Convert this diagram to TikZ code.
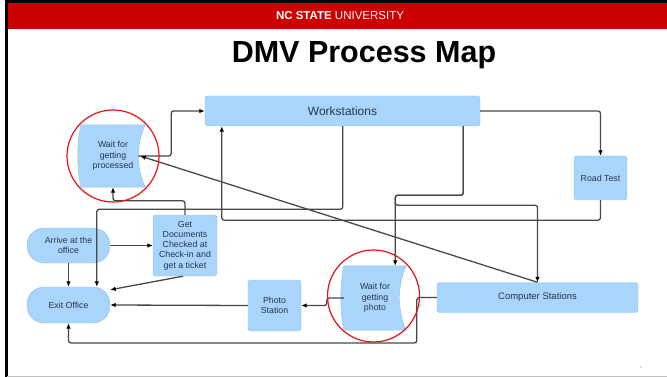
\documentclass[tikz,border=0pt]{standalone}
\usepackage{fontspec}
\setmainfont{Liberation Sans}
\usetikzlibrary{arrows.meta,calc,backgrounds}
\definecolor{boxfill}{RGB}{170,213,250}
\definecolor{boxline}{RGB}{140,195,240}
\definecolor{boxtext}{RGB}{38,52,82}
\definecolor{wire}{RGB}{72,72,72}
\definecolor{ncred}{RGB}{204,0,0}
\definecolor{ringred}{RGB}{232,20,20}
% wait queue: bulged left side, hollow right side
\newcommand{\storedata}[1]{%
  \filldraw[boxfill,draw=boxline,thin]
    (#1.north west) -- (#1.north east)
    .. controls ($(#1.north east)+(-9,20)$) and ($(#1.south east)+(-9,-20)$) .. (#1.south east)
    -- (#1.south west)
    .. controls ($(#1.south west)+(-4,-20)$) and ($(#1.north west)+(-4,20)$) .. cycle;}

\begin{document}
\begin{tikzpicture}[x=1pt,y=-1pt,
box/.style={draw=boxline,fill=boxfill,rounded corners=2.5pt,inner sep=1pt,
  align=center,text=boxtext,font=\fontsize{8.8}{10.3}\selectfont},
pill/.style={box,rounded corners=17pt},
waitbox/.style={inner sep=0pt,align=center,text=boxtext,
  font=\fontsize{8.8}{10.6}\selectfont},
flow/.style={draw=wire,line width=1.3pt,rounded corners=2.5pt,
  -{Latex[length=5.5pt,width=4.6pt,color=black]}},
ring/.style={draw=ringred,line width=1.2pt}]
\useasboundingbox (0,0) rectangle (667,377);

% slide frame
\fill[black] (5,0) rectangle (667,3);
\fill[ncred] (7,3) rectangle (667,29);
\fill[black] (5,0) rectangle (7.5,377);
\draw[black!25,line width=1pt] (7,376) -- (667,376);
\node[text=white] (banner) at (340,15.5)
  {\fontsize{11.5}{12}\selectfont\textbf{NC STATE} UNIVERSITY};
\node (title) at (364,55) {\fontsize{30.5}{31}\selectfont\bfseries DMV Process Map};
\node[text=black!50] (pageno) at (641,367) {\fontsize{3}{3}\selectfont 1};

% stations
\node[box,minimum width=275,minimum height=30,
  font=\fontsize{12}{14}\selectfont] (work) at (342.5,111) {Workstations};
\node[box,minimum width=53,minimum height=44] (road) at (600.5,178) {Road Test};
\node[pill,minimum width=83,minimum height=35] (arrive) at (68.5,245.5) {Arrive at the\\office};
\node[pill,minimum width=83,minimum height=36] (exit) at (68.5,305) {Exit Office};
\node[box,minimum width=64,minimum height=61] (docs) at (185,245.5)
  {Get\\Documents\\Checked at\\Check-in and\\get a ticket};
\node[box,minimum width=53,minimum height=51] (photo) at (274.5,305.5) {Photo\\Station};
\node[box,minimum width=201,minimum height=30,
  font=\fontsize{9.5}{11}\selectfont] (comp) at (537.5,297.5) {Computer Stations};
\node[waitbox,minimum width=64,minimum height=62] (wproc) at (113,156) {Wait for\\getting\\processed};
\node[waitbox,minimum width=62,minimum height=64] (wphoto) at (375,298) {Wait for\\getting\\photo};
\begin{pgfonlayer}{background}
\storedata{wproc}
\storedata{wphoto}
\end{pgfonlayer}

% connectors
\draw[flow] ([xshift=-7pt]wproc.east) -- ++(33,0) |- (work.west);
\draw[flow] (work.east) -| (road.north);
\draw[flow] (road.south) -- ++(0,20) -| ([xshift=17pt]work.south west);
\draw[flow] ([xshift=-17pt]work.south east) -- ++(0,69) -| ([xshift=-11pt]wphoto.north east);
\draw[flow] ([xshift=-17pt]work.south east) -- ++(0,69) -- ++(-68,0) -- ++(0,10) -| (comp.north);
\draw[flow] ([xshift=138pt]work.south west) -- ++(0,83) -| ([xshift=70pt]exit.north west);
\draw[flow] (comp.north) -- ([xshift=-5pt]wproc.east);
\draw[flow] (docs.north) -- ++(0,-14) -| (wproc.south);
\draw[flow] (arrive.east) -- (docs.west);
\draw[flow] (arrive.south) -- (exit.north);
\draw[flow] ([xshift=-2pt]docs.south) -- ($(exit.north east)+(0,3)$);
\draw[flow] (comp.west) -- ++(-20,0) -- ++(0,45.5) -| (exit.south);
\draw[flow] (wphoto.west) -- ++(-17,0) |- (photo.east);
\draw[flow] (photo.west) -- (exit.east);

% highlighted queues
\draw[ring] (wproc.center) circle (46);
\draw[ring] (373.5,296) circle (46);
\end{tikzpicture}
\end{document}
